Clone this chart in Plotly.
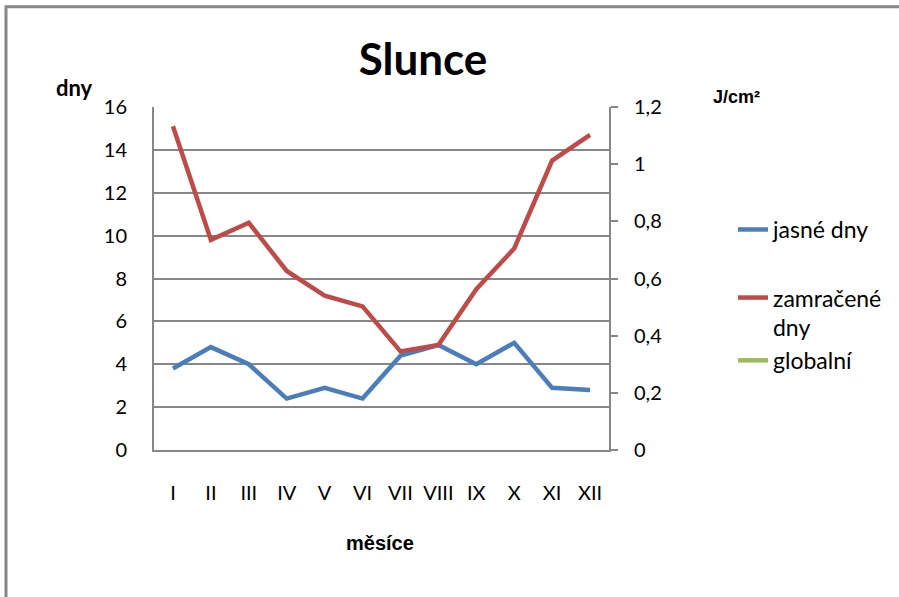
import plotly.graph_objects as go

mesice = ["I", "II", "III", "IV", "V", "VI", "VII", "VIII", "IX", "X", "XI", "XII"]
jasne_dny = [3.8, 4.8, 4.0, 2.4, 2.9, 2.4, 4.4, 4.9, 4.0, 5.0, 2.9, 2.8]
zamracene_dny = [15.1, 9.8, 10.6, 8.35, 7.2, 6.7, 4.6, 4.9, 7.5, 9.4, 13.5, 14.7]
globalni = [None] * 12

left_ticks = [0, 2, 4, 6, 8, 10, 12, 14, 16]
right_ticks = [0, 0.2, 0.4, 0.6, 0.8, 1.0, 1.2]

GRID = "#878787"
FONT = "Lato, 'Open Sans', sans-serif"

fig = go.Figure()
fig.add_trace(go.Scatter(x=mesice, y=jasne_dny, mode="lines", name="jasné dny",
                         line=dict(color="#4A7EBB", width=4.5), legend="legend"))
fig.add_trace(go.Scatter(x=mesice, y=zamracene_dny, mode="lines", name="zamračené<br>dny",
                         line=dict(color="#BE4B48", width=4.5), legend="legend2"))
fig.add_trace(go.Scatter(x=mesice, y=globalni, mode="lines", name="globalní",
                         line=dict(color="#9BBB59", width=4.5), yaxis="y2", legend="legend2"))

fig.update_layout(
    width=899, height=597, autosize=False,
    margin=dict(l=154, r=290, t=107, b=147),
    paper_bgcolor="white", plot_bgcolor="white",
    separators=", ",
    showlegend=True,
    font=dict(family=FONT, size=20, color="black"),
    title=dict(text="<b>Slunce</b>", x=0.4705, y=0.8995, xref="container", yref="container",
               xanchor="center", yanchor="middle", font=dict(size=44, family=FONT)),
    xaxis=dict(type="category", range=[-0.5, len(mesice) - 0.5], showgrid=False,
               showline=True, linecolor=GRID, linewidth=2,
               ticks="", ticklabelstandoff=24, tickfont=dict(size=20)),
    yaxis=dict(range=[0, 16], tickvals=left_ticks, showgrid=True, gridcolor=GRID, gridwidth=2,
               showline=True, linecolor=GRID, linewidth=2, zeroline=False, ticks="",
               ticklabelstandoff=21, tickfont=dict(size=20)),
    yaxis2=dict(range=[0, 1.2], tickvals=right_ticks, overlaying="y", side="right",
                showgrid=False, zeroline=False, showline=True, linecolor=GRID, linewidth=2,
                ticks="outside", ticklen=7, tickcolor=GRID, tickwidth=2,
                ticklabelstandoff=12, tickfont=dict(size=20)),
    legend=dict(x=1.2725, y=0.7055, xanchor="left", yanchor="top", bgcolor="rgba(0,0,0,0)",
                font=dict(size=23), valign="top"),
    legend2=dict(x=1.2725, y=0.507, xanchor="left", yanchor="top", bgcolor="rgba(0,0,0,0)",
                 font=dict(size=23), valign="top", tracegroupgap=0),
    annotations=[
        dict(text="<b>dny</b>", x=-0.1758, y=1.0554, xref="paper", yref="paper",
             xanchor="center", yanchor="middle",
             showarrow=False, font=dict(size=22, family=FONT)),
        dict(text="<b>J/cm²</b>", x=1.2813, y=1.029, xref="paper", yref="paper",
             xanchor="center", yanchor="middle",
             showarrow=False, font=dict(size=18, family="Liberation Sans, Arial")),
        dict(text="<b>měsíce</b>", x=0.4967, y=-0.2711, xref="paper", yref="paper",
             xanchor="center", yanchor="middle",
             showarrow=False, font=dict(size=20, family="Liberation Sans, Arial")),
    ],
    shapes=[
        dict(type="rect", xref="paper", yref="paper", x0=-0.3253, x1=1.66, y0=-0.6, y1=1.2925,
             line=dict(color=GRID, width=3), fillcolor="rgba(0,0,0,0)", layer="above"),
    ],
)

fig.write_html("out.html", config={"displayModeBar": False},
               post_script="document.body.style.margin='0';")
